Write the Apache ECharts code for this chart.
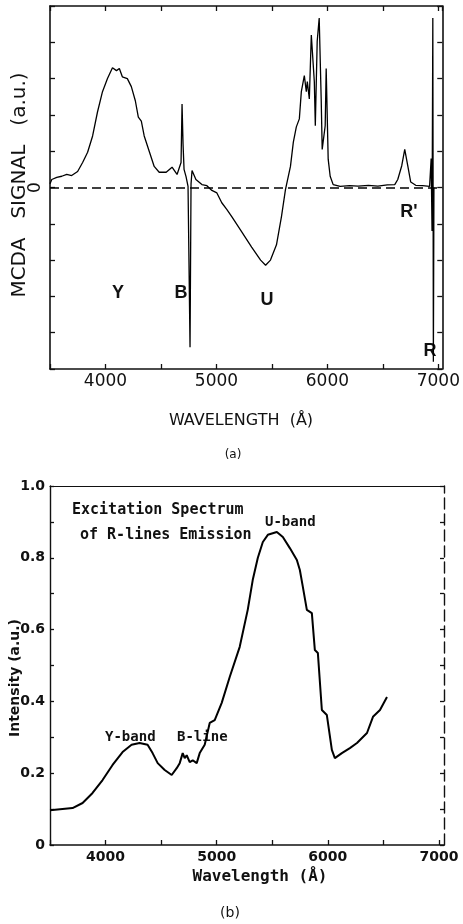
<!DOCTYPE html>
<html>
<head>
<meta charset="utf-8">
<script src="https://cdn.jsdelivr.net/npm/echarts@6/dist/echarts.min.js"></script>
<style>html,body{margin:0;padding:0;background:#fff}#c{width:463px;height:924px}</style>
</head>
<body>
<div id="c"></div>
<script>
// Panel (a): MCDA signal vs wavelength (Å)
const waveA = [3500,3516,3561,3606,3651,3695,3749,3794,3839,3884,3928,3973,4018,4063,4099,4125,4152,4197,4233,4269,4296,4323,4349,4394,4439,4484,4547,4600,4645,4681,4690,4699,4708,4726,4744,4753,4762,4771,4780,4815,4869,4914,4959,5004,5048,5093,5138,5228,5317,5398,5443,5487,5541,5586,5622,5667,5693,5720,5747,5765,5792,5810,5819,5837,5855,5882,5891,5908,5926,5944,5953,5980,5989,6007,6025,6052,6115,6200,6276,6370,6455,6540,6607,6634,6670,6697,6724,6751,6796,6858,6921,6935,6943,6950,6955,6960];
const signalA = [0.10,0.22,0.28,0.31,0.36,0.33,0.44,0.69,0.97,1.42,2.08,2.64,3.00,3.30,3.22,3.28,3.05,3.00,2.78,2.39,1.94,1.83,1.42,1.00,0.58,0.42,0.42,0.56,0.36,0.69,2.30,1.20,0.50,0.30,0.03,0.00,-4.40,0.10,0.47,0.22,0.08,0.05,-0.08,-0.15,-0.42,-0.60,-0.80,-1.22,-1.64,-2.00,-2.14,-2.00,-1.58,-0.80,-0.06,0.58,1.25,1.67,1.89,2.64,3.08,2.64,2.92,2.44,4.20,2.92,1.70,4.03,4.67,2.44,1.05,1.70,3.28,0.78,0.31,0.08,0.03,0.05,0.04,0.06,0.04,0.07,0.08,0.22,0.60,1.05,0.60,0.15,0.06,0.05,0.03,0.80,-1.20,4.67,-4.80,0.00];

// Panel (b): excitation spectrum of R-lines emission
const waveB = [3500,3703,3793,3883,3973,4063,4153,4234,4306,4378,4423,4469,4532,4595,4640,4667,4694,4712,4730,4757,4784,4820,4847,4892,4937,4982,5045,5117,5207,5279,5324,5370,5415,5460,5541,5595,5658,5721,5748,5775,5811,5856,5883,5910,5946,5991,6036,6063,6126,6198,6262,6352,6406,6469,6532];
const intensityB = [0.097,0.103,0.117,0.145,0.181,0.223,0.259,0.279,0.284,0.279,0.256,0.228,0.209,0.195,0.214,0.228,0.256,0.242,0.250,0.231,0.236,0.228,0.256,0.279,0.340,0.348,0.396,0.468,0.552,0.655,0.738,0.800,0.844,0.864,0.872,0.858,0.827,0.794,0.766,0.719,0.655,0.646,0.543,0.535,0.376,0.362,0.265,0.242,0.256,0.270,0.284,0.312,0.357,0.376,0.412];

const xTickLabels = [4000, 5000, 6000, 7000];
const yTickLabelsA = [0];
const yTickLabelsB = ['0','0.2','0.4','0.6','0.8','1.0'];

const dataA = waveA.map((w, i) => [w, signalA[i]]);
const dataB = waveB.map((w, i) => [w, intensityB[i]]);

const ink = '#111';
const axisLine = (w, type) => ({show: true, onZero: false, lineStyle: {color: ink, width: w, type: type || 'solid'}});
const tickIn = (len) => ({show: true, inside: true, length: len, lineStyle: {color: ink, width: 1.3}});

const xLabelFmt = v => xTickLabels.indexOf(v) >= 0 ? String(v) : '';

const chart = echarts.init(document.getElementById('c'), null, {renderer: 'canvas'});
chart.setOption({
  animation: false,
  backgroundColor: '#fff',
  grid: [
    {left: 50, right: 18, top: 6, height: 363},
    {left: 50, right: 19, top: 486, height: 359}
  ],
  xAxis: [
    {gridIndex: 0, type: 'value', min: 3500, max: 7035, interval: 500, position: 'bottom',
     axisLine: axisLine(1.6), axisTick: tickIn(5), splitLine: {show: false},
     axisLabel: {formatter: xLabelFmt, margin: 4, color: ink, fontFamily: 'DejaVu Sans', fontSize: 17, showMaxLabel: false}},
    {gridIndex: 0, type: 'value', min: 3500, max: 7035, interval: 500, position: 'top',
     axisLine: axisLine(1.6), axisTick: tickIn(5), splitLine: {show: false}, axisLabel: {show: false}},
    {gridIndex: 1, type: 'value', min: 3500, max: 7045, interval: 500, position: 'bottom',
     axisLine: axisLine(1.6), axisTick: tickIn(5), splitLine: {show: false},
     axisLabel: {formatter: xLabelFmt, margin: 5, color: ink, fontFamily: 'DejaVu Sans', fontWeight: 'bold', fontSize: 14, showMaxLabel: false}},
    {gridIndex: 1, type: 'value', min: 3500, max: 7045, interval: 500, position: 'top',
     axisLine: axisLine(1.2), axisTick: {show: false}, splitLine: {show: false}, axisLabel: {show: false}}
  ],
  yAxis: [
    {gridIndex: 0, type: 'value', min: -5, max: 5, interval: 1, position: 'left',
     axisLine: axisLine(1.6), axisTick: tickIn(5), splitLine: {show: false},
     axisLabel: {formatter: v => yTickLabelsA.indexOf(v) >= 0 ? String(v) : '', rotate: 90, margin: 6,
                 color: ink, fontFamily: 'DejaVu Sans', fontSize: 17}},
    {gridIndex: 0, type: 'value', min: -5, max: 5, interval: 1, position: 'right',
     axisLine: axisLine(1.6), axisTick: tickIn(5), splitLine: {show: false}, axisLabel: {show: false}},
    {gridIndex: 1, type: 'value', min: 0, max: 1, interval: 0.1, position: 'left',
     axisLine: axisLine(1.4), axisTick: tickIn(4), splitLine: {show: false},
     axisLabel: {formatter: v => { const r = Math.round(v * 10); return r % 2 === 0 ? yTickLabelsB[r / 2] : ''; },
                 margin: 5, color: ink, fontFamily: 'DejaVu Sans', fontWeight: 'bold', fontSize: 14}},
    {gridIndex: 1, type: 'value', min: 0, max: 1, interval: 0.1, position: 'right',
     axisLine: axisLine(1.4, [11, 5]), axisTick: tickIn(4), splitLine: {show: false}, axisLabel: {show: false}}
  ],
  series: [
    {type: 'line', xAxisIndex: 0, yAxisIndex: 0, data: dataA, symbol: 'none', smooth: false,
     lineStyle: {color: '#000', width: 1.3},
     markLine: {silent: true, symbol: 'none', label: {show: false},
                lineStyle: {color: '#000', width: 1.6, type: [9, 5]}, data: [{yAxis: 0}]}},
    {type: 'line', xAxisIndex: 2, yAxisIndex: 2, data: dataB, symbol: 'none', smooth: false,
     lineStyle: {color: '#000', width: 2}}
  ],
  graphic: [
    {type: 'text', x: 20, y: 185, rotation: Math.PI / 2,
     style: {text: 'MCDA   SIGNAL   (a.u.)', fontFamily: 'DejaVu Sans', fontSize: 20, fill: ink, align: 'center', verticalAlign: 'middle'}},
    {type: 'text', x: 118, y: 293, style: {text: 'Y', fontFamily: 'Liberation Sans', fontWeight: 'bold', fontSize: 18, fill: ink, align: 'center', verticalAlign: 'middle'}},
    {type: 'text', x: 181, y: 293, style: {text: 'B', fontFamily: 'Liberation Sans', fontWeight: 'bold', fontSize: 18, fill: ink, align: 'center', verticalAlign: 'middle'}},
    {type: 'text', x: 267, y: 300, style: {text: 'U', fontFamily: 'Liberation Sans', fontWeight: 'bold', fontSize: 18, fill: ink, align: 'center', verticalAlign: 'middle'}},
    {type: 'text', x: 409, y: 212, style: {text: "R'", fontFamily: 'Liberation Sans', fontWeight: 'bold', fontSize: 18, fill: ink, align: 'center', verticalAlign: 'middle'}},
    {type: 'text', x: 430, y: 351, style: {text: 'R', fontFamily: 'Liberation Sans', fontWeight: 'bold', fontSize: 18, fill: ink, align: 'center', verticalAlign: 'middle'}},
    {type: 'text', x: 241, y: 421, style: {text: 'WAVELENGTH  (Å)', fontFamily: 'DejaVu Sans', fontSize: 16, fill: ink, align: 'center', verticalAlign: 'middle'}},
    {type: 'text', x: 233, y: 455, style: {text: '(a)', fontFamily: 'DejaVu Sans', fontSize: 12, fill: ink, align: 'center', verticalAlign: 'middle'}},
    {type: 'text', x: 72, y: 510, style: {text: 'Excitation Spectrum', fontFamily: 'DejaVu Sans Mono', fontWeight: 'bold', fontSize: 15, fill: ink, align: 'left', verticalAlign: 'middle'}},
    {type: 'text', x: 80, y: 535, style: {text: 'of R-lines Emission', fontFamily: 'DejaVu Sans Mono', fontWeight: 'bold', fontSize: 15, fill: ink, align: 'left', verticalAlign: 'middle'}},
    {type: 'text', x: 265, y: 522, style: {text: 'U-band', fontFamily: 'DejaVu Sans Mono', fontWeight: 'bold', fontSize: 14, fill: ink, align: 'left', verticalAlign: 'middle'}},
    {type: 'text', x: 105, y: 737, style: {text: 'Y-band', fontFamily: 'DejaVu Sans Mono', fontWeight: 'bold', fontSize: 14, fill: ink, align: 'left', verticalAlign: 'middle'}},
    {type: 'text', x: 177, y: 737, style: {text: 'B-line', fontFamily: 'DejaVu Sans Mono', fontWeight: 'bold', fontSize: 14, fill: ink, align: 'left', verticalAlign: 'middle'}},
    {type: 'text', x: 260, y: 877, style: {text: 'Wavelength (Å)', fontFamily: 'DejaVu Sans Mono', fontWeight: 'bold', fontSize: 16, fill: ink, align: 'center', verticalAlign: 'middle'}},
    {type: 'text', x: 15, y: 678, rotation: Math.PI / 2,
     style: {text: 'Intensity (a.u.)', fontFamily: 'DejaVu Sans', fontWeight: 'bold', fontSize: 14, fill: ink, align: 'center', verticalAlign: 'middle'}},
    {type: 'text', x: 230, y: 913, style: {text: '(b)', fontFamily: 'DejaVu Sans', fontSize: 14, fill: ink, align: 'center', verticalAlign: 'middle'}}
  ]
});
</script>
</body>
</html>
